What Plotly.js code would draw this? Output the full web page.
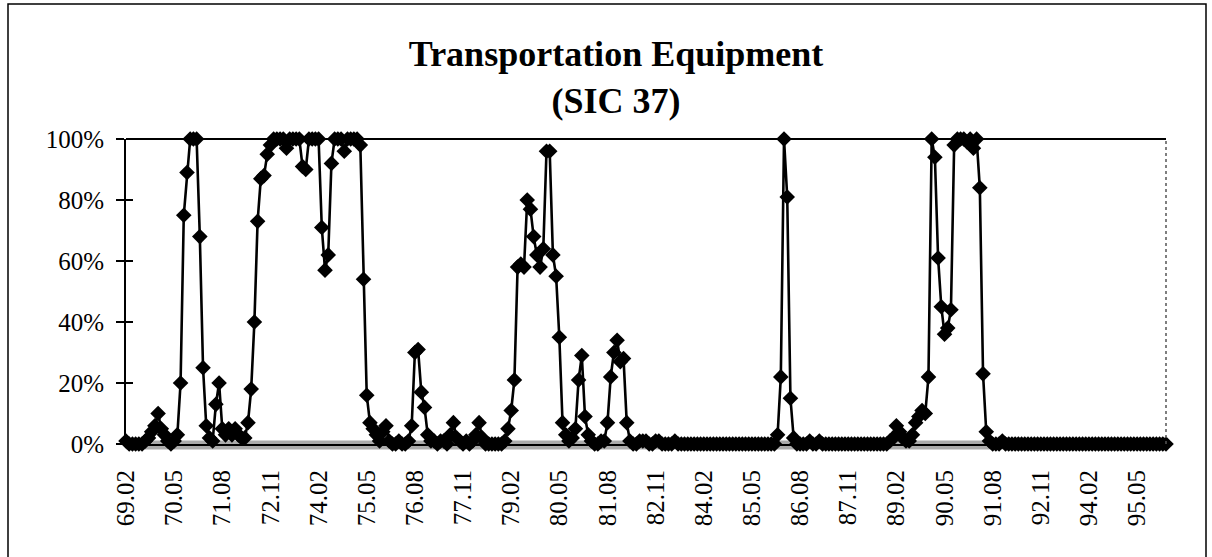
<!DOCTYPE html>
<html>
<head>
<meta charset="utf-8">
<script src="https://cdn.plot.ly/plotly-3.0.1.min.js"></script>
<style>
html,body{margin:0;padding:0;background:#fff;}
#chart{width:1212px;height:557px;}
</style>
</head>
<body>
<div id="chart"></div>
<script>
// Monthly observations, 1969.02 – 1996.02 (share, %)
const startYear = 69, startMonth = 2, nMonths = 325;
const values = [
  1,0,0,0,0,0,1,2,4,6, 10,5,3,1,0,1,3,20,75,89,
  100,100,100,68,25,6,2,1,13,20, 5,3,5,3,5,3,2,2,7,18,
  40,73,87,88,95,98,100,100,100,100, 97,100,100,100,100,91,90,100,100,100,
  100,71,57,62,92,100,100,100,96,100, 100,100,100,98,54,16,7,5,3,1,
  4,6,1,0,0,1,0,0,1,6, 30,31,17,12,3,1,1,0,1,1,
  0,3,7,2,1,0,1,0,1,3, 7,2,0,0,0,0,0,0,1,5,
  11,21,58,59,58,80,77,68,62,58, 64,96,96,62,55,35,7,3,1,2,
  5,21,29,9,3,1,0,0,1,1, 7,22,30,34,27,28,7,1,0,0,
  1,1,1,0,0,1,1,0,0,0, 0,1,0,0,0,0,0,0,0,0,
  0,0,0,0,0,0,0,0,0,0, 0,0,0,0,0,0,0,0,0,0,
  0,0,0,3,22,100,81,15,2,0, 0,0,0,1,0,0,1,0,0,0,
  0,0,0,0,0,0,0,0,0,0, 0,0,0,0,0,0,0,0,1,2,
  6,4,2,1,1,3,7,9,11,10, 22,100,94,61,45,36,38,44,98,100,
  100,100,99,100,97,100,84,23,4,1, 0,0,0,1,0,0,0,0,0,0,
  0,0,0,0,0,0,0,0,0,0, 0,0,0,0,0,0,0,0,0,0,
  0,0,0,0,0,0,0,0,0,0, 0,0,0,0,0,0,0,0,0,0,
  0,0,0,0,0
];
const tickLabels = ["69.02","70.05","71.08","72.11","74.02","75.05","76.08","77.11",
  "79.02","80.05","81.08","82.11","84.02","85.05","86.08","87.11",
  "89.02","90.05","91.08","92.11","94.02","95.05"];

// category labels (YY.MM) for each monthly observation
const categories = [];
for (let k = 0; k < nMonths; k++) {
  const m0 = (startMonth - 1) + k;
  const y = startYear + Math.floor(m0 / 12);
  const m = (m0 % 12) + 1;
  categories.push(String(y) + "." + (m < 10 ? "0" + m : String(m)));
}
const yvals = values.map(v => v / 100);

const W = 1212, H = 557;
const L = 126, R = 46, T = 139, B = 113;
const pw = W - L - R, ph = H - T - B;
const px = x => (x - L) / pw;
const py = y => (H - B - y) / ph;

const serif = "Liberation Serif, Times New Roman, serif";

const trace = {
  type: "scatter", mode: "lines+markers",
  x: categories, y: yvals,
  line: {color: "#000", width: 2.6},
  marker: {symbol: "diamond", size: 12, color: "#000"},
  cliponaxis: false, hoverinfo: "skip", showlegend: false
};

const layout = {
  width: W, height: H,
  margin: {l: L, r: R, t: T, b: B},
  paper_bgcolor: "#fff", plot_bgcolor: "#fff",
  showlegend: false,
  title: {
    text: "<b>Transportation Equipment</b><br><b>(SIC 37)</b>",
    font: {family: serif, size: 36, color: "#000"},
    x: px(616), xref: "paper", xanchor: "center",
    y: 1 - 66 / H, yref: "container", yanchor: "top"
  },
  xaxis: {
    type: "category", categoryorder: "array", categoryarray: categories,
    range: [0, nMonths - 1],
    tickmode: "array", tickvals: tickLabels, ticktext: tickLabels,
    tickangle: -90, ticks: "", ticklabelstandoff: 14,
    tickfont: {family: serif, size: 25, color: "#000"},
    showgrid: false, zeroline: false,
    showline: true, linecolor: "#000", linewidth: 2
  },
  yaxis: {
    range: [0, 1], tickmode: "array",
    tickvals: [0, 0.2, 0.4, 0.6, 0.8, 1.0],
    tickformat: ".0%",
    ticks: "outside", ticklen: 8, tickwidth: 1.5, tickcolor: "#000",
    ticklabelstandoff: 7,
    tickfont: {family: serif, size: 25, color: "#000"},
    showgrid: false, zeroline: false,
    showline: true, linecolor: "#000", linewidth: 2
  },
  yaxis2: {
    overlaying: "y", matches: "y", range: [0, 1],
    tickvals: [0.2, 0.4, 0.6, 0.8],
    ticks: "inside", ticklen: 7, tickwidth: 1.5, tickcolor: "#000",
    showticklabels: false, showgrid: false, zeroline: false, showline: false
  },
  shapes: [
    // grey band along the category axis
    {type: "line", xref: "paper", yref: "paper", layer: "below",
     x0: 0, x1: 1, y0: py(445), y1: py(445),
     line: {color: "#ababab", width: 9}},
    // top border of plot area
    {type: "line", xref: "paper", yref: "paper", x0: 0, x1: 1, y0: 1, y1: 1,
     line: {color: "#000", width: 2}},
    // right border of plot area
    {type: "line", xref: "paper", yref: "paper", x0: 1, x1: 1, y0: 0, y1: 1,
     line: {color: "#555", width: 1.5, dash: "dot"}},
    // outer chart frame
    {type: "rect", xref: "paper", yref: "paper", layer: "below",
     x0: px(8), x1: px(1206), y0: py(565), y1: py(4),
     line: {color: "#000", width: 1.5}}
  ]
};

const dummy = {type: "scatter", x: [categories[0]], y: [0], yaxis: "y2",
  mode: "markers", marker: {opacity: 0}, hoverinfo: "skip", showlegend: false};

Plotly.newPlot("chart", [trace, dummy], layout, {staticPlot: true, displayModeBar: false});
</script>
</body>
</html>
